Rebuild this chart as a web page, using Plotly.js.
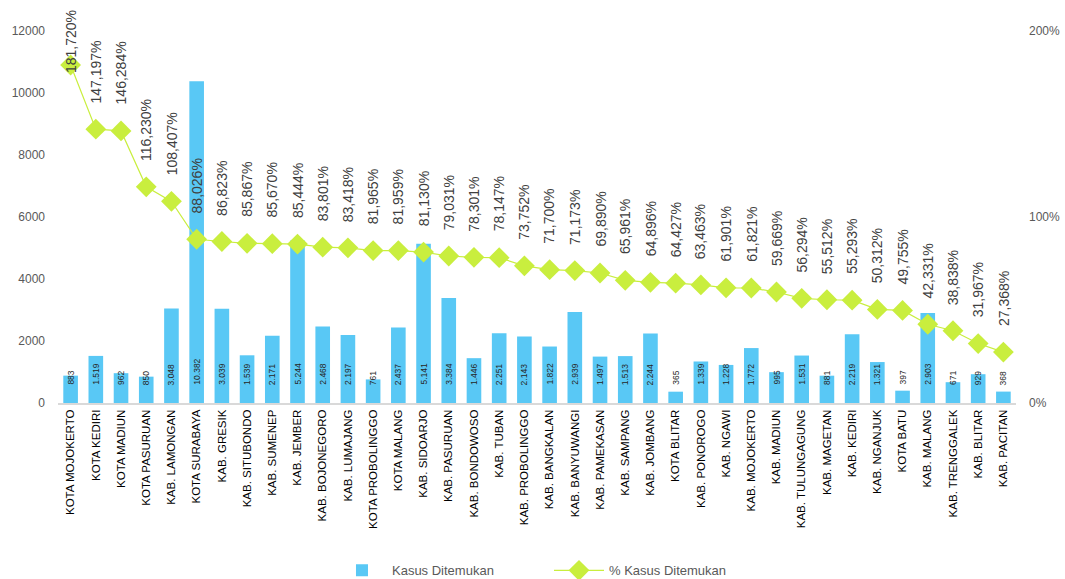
<!DOCTYPE html>
<html>
<head>
<meta charset="utf-8">
<script src="https://cdn.plot.ly/plotly-3.0.1.min.js"></script>
<style>html,body{margin:0;padding:0;background:#fff;}#chart{width:1065px;height:579px;}</style>
</head>
<body>
<div id="chart"></div>
<script>
const categories = ["KOTA MOJOKERTO","KOTA KEDIRI","KOTA MADIUN","KOTA PASURUAN","KAB. LAMONGAN","KOTA SURABAYA","KAB. GRESIK","KAB. SITUBONDO","KAB. SUMENEP","KAB. JEMBER","KAB. BOJONEGORO","KAB. LUMAJANG","KOTA PROBOLINGGO","KOTA MALANG","KAB. SIDOARJO","KAB. PASURUAN","KAB. BONDOWOSO","KAB. TUBAN","KAB. PROBOLINGGO","KAB. BANGKALAN","KAB. BANYUWANGI","KAB. PAMEKASAN","KAB. SAMPANG","KAB. JOMBANG","KOTA BLITAR","KAB. PONOROGO","KAB. NGAWI","KAB. MOJOKERTO","KAB. MADIUN","KAB. TULUNGAGUNG","KAB. MAGETAN","KAB. KEDIRI","KAB. NGANJUK","KOTA BATU","KAB. MALANG","KAB. TRENGGALEK","KAB. BLITAR","KAB. PACITAN"];
const kasusDitemukan = [883,1519,962,850,3048,10382,3039,1539,2171,5244,2468,2197,761,2437,5141,3384,1446,2251,2143,1822,2939,1497,1513,2244,365,1339,1228,1772,995,1531,881,2219,1321,397,2903,671,929,368];
const persenDitemukan = [181.720,147.197,146.284,116.230,108.407,88.026,86.823,85.867,85.670,85.444,83.801,83.418,81.965,81.959,81.130,79.031,78.301,78.147,73.752,71.700,71.173,69.890,65.961,64.896,64.427,63.463,61.901,61.821,59.669,56.294,55.512,55.293,50.312,49.755,42.331,38.838,31.967,27.368];
const leftTicks = [0,2000,4000,6000,8000,10000,12000];
const rightTickVals = [0,100,200];
const rightTickText = ["0%","100%","200%"];

function fmtThousands(v){ return String(v).replace(/\B(?=(\d{3})+(?!\d))/g, "."); }
function fmtPct(v){ return v.toFixed(3).replace(".", ",") + "%"; }

const FONT = "Liberation Sans, Arial, sans-serif";
const barColor = "#59C8F5";
const lineColor = "#C9EE3E";

const traces = [
  {
    type: "bar", name: "Kasus Ditemukan", x: categories, y: kasusDitemukan,
    marker: {color: barColor}, width: 0.58, hoverinfo: "x+y"
  },
  {
    type: "scatter", mode: "lines+markers", name: "% Kasus Ditemukan",
    x: categories, y: persenDitemukan, yaxis: "y2",
    line: {color: lineColor, width: 1.2},
    marker: {symbol: "diamond", size: 16, color: lineColor}
  }
];

const annotations = [];
categories.forEach((c, i) => {
  annotations.push({
    x: c, y: 0, xref: "x", yref: "y", text: fmtThousands(kasusDitemukan[i]),
    textangle: -90, showarrow: false, yanchor: "bottom", xanchor: "center", yshift: 16,
    font: {family: FONT, size: 8.5, color: "#262626"}
  });
  annotations.push({
    x: c, y: persenDitemukan[i], xref: "x", yref: "y2", text: fmtPct(persenDitemukan[i]),
    textangle: -90, showarrow: false, yanchor: "bottom", xanchor: "center",
    yshift: i === 0 ? -10 : 24,
    font: {family: FONT, size: 14, color: "#404040"}
  });
});

const layout = {
  width: 1065, height: 579,
  margin: {l: 58, r: 49, t: 31, b: 176, autoexpand: false},
  paper_bgcolor: "#ffffff", plot_bgcolor: "#ffffff",
  font: {family: FONT, color: "#595959"},
  showlegend: true,
  legend: {orientation: "h", x: 0.286, xanchor: "left", y: -0.45, yanchor: "middle",
           font: {family: FONT, size: 13, color: "#595959"}, itemwidth: 50,
           entrywidth: 152, traceorder: "normal"},
  bargap: 0.4,
  xaxis: {
    type: "category", range: [-0.5, categories.length - 0.5], autorange: false,
    tickangle: -90, showgrid: false, zeroline: false,
    showline: true, linecolor: "#D9D9D9", linewidth: 2, ticks: "",
    tickfont: {family: FONT, size: 11.5, color: "#000000"}, automargin: false
  },
  yaxis: {
    range: [0, 12000], tickvals: leftTicks, ticktext: leftTicks.map(String),
    showgrid: false, zeroline: false, showline: false, ticks: "", automargin: false,
    tickfont: {family: FONT, size: 12, color: "#595959"}, ticklabelstandoff: 12
  },
  yaxis2: {
    overlaying: "y", side: "right", range: [0, 200], automargin: false,
    tickvals: rightTickVals, ticktext: rightTickText,
    showgrid: false, zeroline: false, showline: false, ticks: "",
    tickfont: {family: FONT, size: 12, color: "#595959"}, ticklabelstandoff: 12
  },
  annotations: annotations
};

Plotly.newPlot("chart", traces, layout, {staticPlot: true});
</script>
</body>
</html>
